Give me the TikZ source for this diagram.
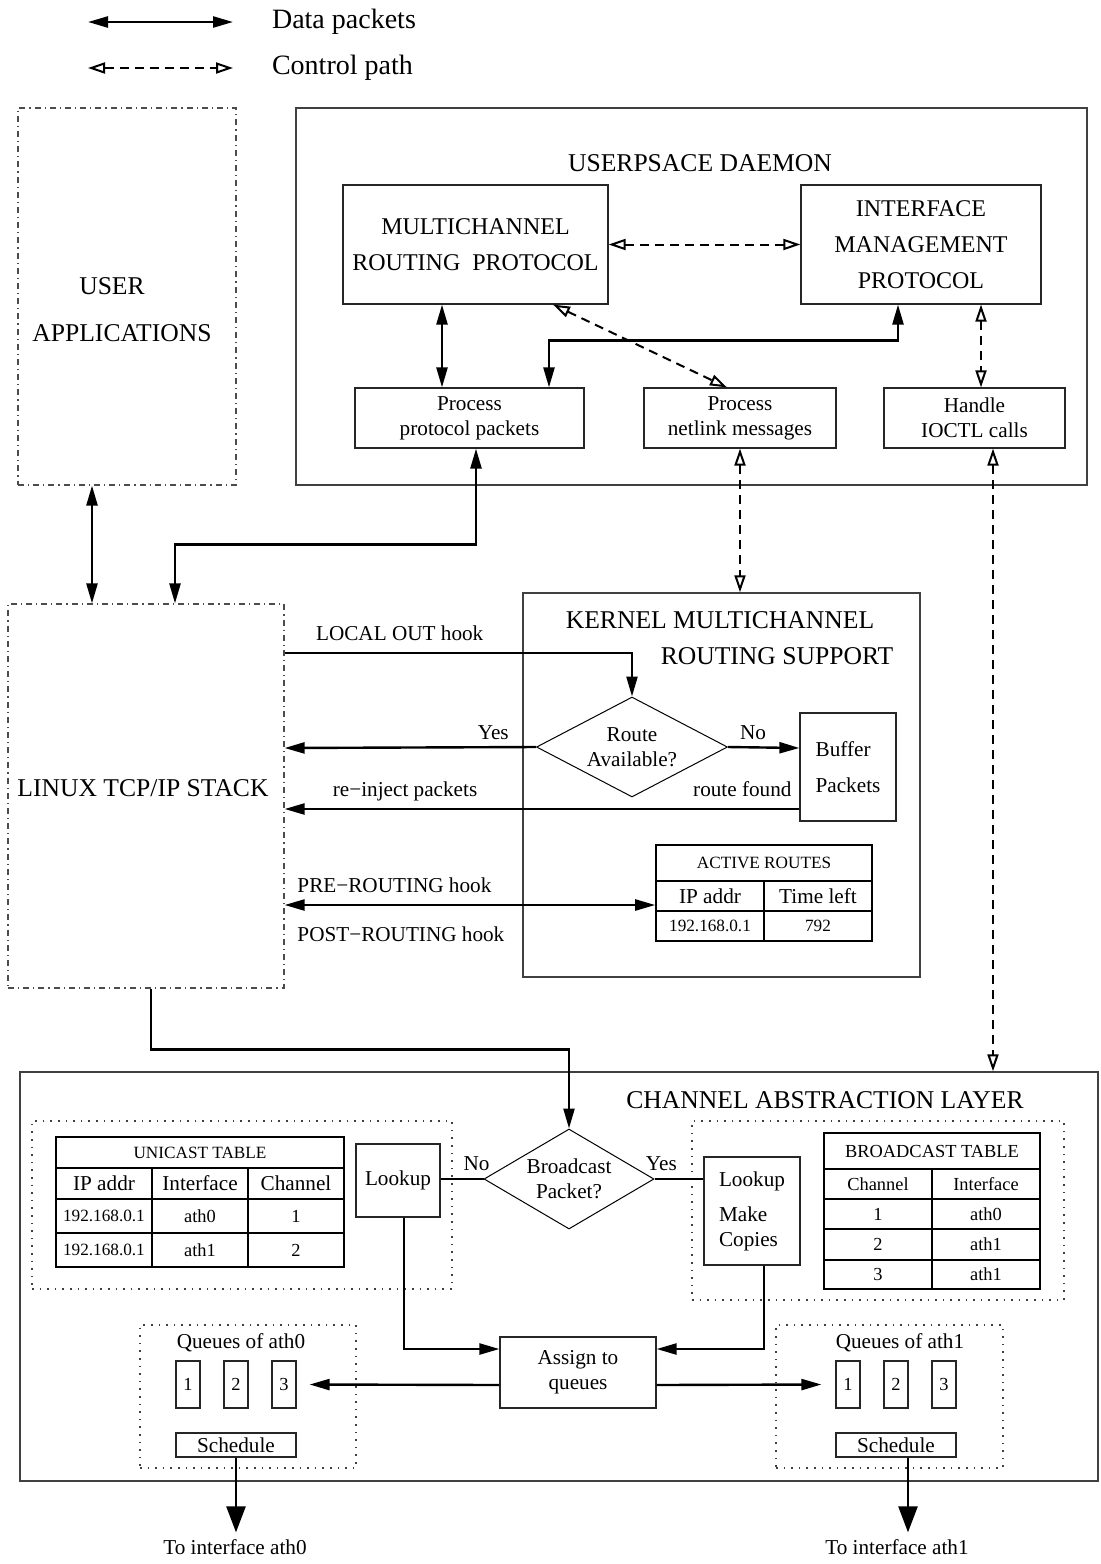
\documentclass[tikz,border=0pt]{standalone}
\usepackage{fontspec}
\setmainfont{Liberation Serif}
\usetikzlibrary{arrows.meta,shapes.geometric}

\begin{document}
\begin{tikzpicture}[
  x=0.5pt,y=-0.5pt,
  big/.style={font=\fontsize{12.8}{18}\selectfont},
  boxfont/.style={font=\fontsize{12}{18}\selectfont},
  mid/.style={font=\fontsize{10.6}{12.5}\selectfont},
  small/.style={font=\fontsize{9.2}{11}\selectfont},
  tiny/.style={font=\fontsize{8.6}{10}\selectfont},
  frame/.style={rectangle,draw=black!75,line width=0.7pt,inner sep=0pt},
  block/.style={rectangle,draw=black!85,line width=0.6pt,inner sep=0pt,align=center},
  dashdot/.style={rectangle,draw=black!70,line width=0.6pt,dash pattern=on 3pt off 2pt on 0.6pt off 2pt,inner sep=0pt},
  dotbox/.style={rectangle,draw=black!75,line width=0.8pt,dash pattern=on 0.8pt off 3pt,inner sep=0pt},
  cell/.style={rectangle,draw,line width=0.8pt,inner sep=0pt},
  decision/.style={diamond,draw,line width=0.5pt,inner sep=0pt,align=center},
  data/.style={line width=1.2pt,->,>={Triangle[length=10pt,width=5.5pt]}},
  link/.style={line width=1.2pt},
  ctrl/.style={line width=1pt,dash pattern=on 4.5pt off 3pt,<->,>={Triangle[open,length=8.5pt,width=5.5pt]}},
  outlink/.style={line width=1.2pt,-{Triangle[length=13pt,width=9.5pt]}}
]
  \useasboundingbox (0,0) rectangle (1101,1564);

  % legend
  \coordinate (dataA) at (88,22);
  \coordinate (dataB) at (233,22);
  \coordinate (ctrlA) at (88,68);
  \coordinate (ctrlB) at (233,68);
  \draw[data,<->] (dataA) -- (dataB);
  \draw[ctrl] (ctrlA) -- (ctrlB);
  \node[anchor=west,font=\fontsize{14}{16}\selectfont] (datatxt) at (265,22) {Data packets};
  \node[anchor=west,font=\fontsize{14}{16}\selectfont] (ctrltxt) at (265,68) {Control path};

  % user space
  \node[dashdot,minimum width=109pt,minimum height=188.5pt] (userapp) at (127,296.5) {};
  \node[align=center,font=\fontsize{12.8}{23.5}\selectfont] (usertxt) at (122,310) {USER\hspace*{10pt}\\APPLICATIONS};

  \node[frame,minimum width=395.5pt,minimum height=188.5pt] (daemon) at (691.5,296.5) {};
  \node[big] (daemontitle) at (700,163) {USERPSACE DAEMON};
  \node[block,boxfont,minimum width=132.5pt,minimum height=59.5pt] (mrp) at (475.5,244.5) {MULTICHANNEL\\ROUTING\ \ PROTOCOL};
  \node[block,boxfont,minimum width=120pt,minimum height=59.5pt] (imp) at (921,244.5) {INTERFACE\\MANAGEMENT\\PROTOCOL};
  \node[block,mid,minimum width=114.5pt,minimum height=30pt] (ppp) at (469.5,418) {Process\\protocol packets};
  \node[block,mid,minimum width=96pt,minimum height=30pt] (pnm) at (740,418) {Process\\netlink messages};
  \node[block,mid,minimum width=90.5pt,minimum height=30pt] (ioctl) at (974.5,418) {Handle\\IOCTL calls};

  % kernel
  \node[dashdot,minimum width=138pt,minimum height=192pt] (linux) at (146,796) {};
  \node[big] (linuxtxt) at (143,788) {LINUX TCP/IP STACK};

  \node[frame,minimum width=198.5pt,minimum height=192pt] (kernel) at (721.5,785) {};
  \node[big] (kerneltitleA) at (720,620) {KERNEL MULTICHANNEL};
  \node[big] (kerneltitleB) at (777,656) {ROUTING SUPPORT};
  \node[decision,mid,minimum width=95.5pt,minimum height=50pt,aspect=1.9] (route) at (632,747) {Route\\Available?};
  \node[block,align=left,font=\fontsize{10.6}{18}\selectfont,minimum width=48pt,minimum height=54pt] (buffer) at (848,767) {Buffer\\Packets};

  \node[cell,tiny,minimum width=108pt,minimum height=18pt] (arhead) at (764,863) {ACTIVE ROUTES};
  \node[cell,mid,minimum width=54pt,minimum height=15pt] (arip) at (710,896) {IP addr};
  \node[cell,mid,minimum width=54pt,minimum height=15pt] (artime) at (818,896) {Time left};
  \node[cell,tiny,minimum width=54pt,minimum height=15pt] (araddr) at (710,926) {192.168.0.1};
  \node[cell,tiny,minimum width=54pt,minimum height=15pt] (arleft) at (818,926) {792};

  % channel abstraction layer
  \node[frame,minimum width=539pt,minimum height=204.5pt] (cal) at (559,1276.5) {};
  \node[big] (caltitle) at (825,1100) {CHANNEL ABSTRACTION LAYER};

  \node[dotbox,minimum width=210pt,minimum height=84pt] (uzone) at (242,1205) {};
  \node[cell,tiny,minimum width=144pt,minimum height=15.5pt] (uhead) at (200,1152.5) {UNICAST TABLE};
  \node[cell,mid,minimum width=48pt,minimum height=15.5pt] (uip) at (104,1183.5) {IP addr};
  \node[cell,mid,minimum width=48pt,minimum height=15.5pt] (uif) at (200,1183.5) {Interface};
  \node[cell,mid,minimum width=48pt,minimum height=15.5pt] (uch) at (296,1183.5) {Channel};
  \node[cell,tiny,minimum width=48pt,minimum height=17pt] (uaddrA) at (104,1216) {192.168.0.1};
  \node[cell,small,minimum width=48pt,minimum height=17pt] (uifA) at (200,1216) {ath0};
  \node[cell,small,minimum width=48pt,minimum height=17pt] (uchA) at (296,1216) {1};
  \node[cell,tiny,minimum width=48pt,minimum height=17pt] (uaddrB) at (104,1250) {192.168.0.1};
  \node[cell,small,minimum width=48pt,minimum height=17pt] (uifB) at (200,1250) {ath1};
  \node[cell,small,minimum width=48pt,minimum height=17pt] (uchB) at (296,1250) {2};
  \node[block,mid,minimum width=42pt,minimum height=36.5pt] (lookupl) at (398,1180.5) {Lookup};

  \node[decision,mid,minimum width=85pt,minimum height=50pt,aspect=1.7] (bcast) at (569,1179) {Broadcast\\Packet?};

  \node[dotbox,minimum width=186pt,minimum height=89.5pt] (bzone) at (878,1210.5) {};
  \node[block,align=left,mid,minimum width=48pt,minimum height=54pt] (lookupr) at (752,1211) {Lookup\\[5pt]Make\\Copies};
  \node[cell,small,minimum width=108pt,minimum height=18pt] (bhead) at (932,1151) {BROADCAST TABLE};
  \node[cell,small,minimum width=54pt,minimum height=15pt] (bch) at (878,1184) {Channel};
  \node[cell,small,minimum width=54pt,minimum height=15pt] (bif) at (986,1184) {Interface};
  \node[cell,small,minimum width=54pt,minimum height=15pt] (bchA) at (878,1214) {1};
  \node[cell,small,minimum width=54pt,minimum height=15pt] (bifA) at (986,1214) {ath0};
  \node[cell,small,minimum width=54pt,minimum height=15.5pt] (bchB) at (878,1244.5) {2};
  \node[cell,small,minimum width=54pt,minimum height=15.5pt] (bifB) at (986,1244.5) {ath1};
  \node[cell,small,minimum width=54pt,minimum height=14.5pt] (bchC) at (878,1274.5) {3};
  \node[cell,small,minimum width=54pt,minimum height=14.5pt] (bifC) at (986,1274.5) {ath1};

  \node[block,mid,minimum width=78pt,minimum height=35.5pt] (assign) at (578,1372.5) {Assign to\\queues};

  \node[dotbox,minimum width=108pt,minimum height=71.5pt] (qzoneA) at (248,1396.5) {};
  \node[mid] (qtitleA) at (241,1343) {Queues of ath0};
  \node[block,small,minimum width=12pt,minimum height=23.5pt] (q0a) at (188,1384.5) {1};
  \node[block,small,minimum width=12pt,minimum height=23.5pt] (q0b) at (236,1384.5) {2};
  \node[block,small,minimum width=12pt,minimum height=23.5pt] (q0c) at (284,1384.5) {3};
  \node[block,mid,minimum width=60pt,minimum height=12pt] (sched0) at (236,1445) {Schedule};

  \node[dotbox,minimum width=113.5pt,minimum height=71.5pt] (qzoneB) at (889.5,1396.5) {};
  \node[mid] (qtitleB) at (900,1343) {Queues of ath1};
  \node[block,small,minimum width=12pt,minimum height=23.5pt] (q1a) at (848,1384.5) {1};
  \node[block,small,minimum width=12pt,minimum height=23.5pt] (q1b) at (896,1384.5) {2};
  \node[block,small,minimum width=12pt,minimum height=23.5pt] (q1c) at (944,1384.5) {3};
  \node[block,mid,minimum width=60pt,minimum height=12pt] (sched1) at (896,1445) {Schedule};

  \node[mid] (out0) at (235,1547) {To interface ath0};
  \node[mid] (out1) at (897,1547) {To interface ath1};

  % data paths
  \draw[data,<->] ([xshift=-17.5pt]userapp.south) -- ([xshift=-27pt]linux.north);
  \draw[data,<->] ([xshift=3.25pt]ppp.south) -- ++(0,96) -| ([xshift=14.5pt]linux.north);
  \draw[data,<->] ([xshift=-16.75pt]mrp.south) -- ([xshift=-13.75pt]ppp.north);
  \draw[data,<->] ([xshift=-11.5pt]imp.south) -- ++(0,36) -| ([xshift=39.75pt]ppp.north);
  \draw[data] ([yshift=71.5pt]linux.east) -| node[pos=0.034,anchor=south west,mid,yshift=2pt] {LOCAL OUT hook} (route.north);
  \draw[data] (route.west) -- node[pos=0.17,above,mid] {Yes} ([yshift=24pt]linux.east);
  \draw[data] (route.east) -- node[pos=0.35,above,mid] {No} ([yshift=9.5pt]buffer.west);
  \draw[data] ([yshift=-21pt]buffer.west) -- node[pos=0,anchor=south east,mid,yshift=2pt] {route found}
    node[pos=0.766,above,mid] {re−inject packets} ([yshift=-6.5pt]linux.east);
  \draw[data,<->] ([yshift=-54.5pt]linux.east) -- node[pos=0,anchor=south west,mid,xshift=2.5pt,yshift=2pt] {PRE−ROUTING hook}
    node[pos=0,anchor=north west,mid,xshift=2.5pt,yshift=-7pt] {POST−ROUTING hook} ([yshift=-4.5pt]arip.west);
  \draw[data] ([xshift=2.5pt]linux.south) -- ++(0,61) -| (bcast.north);
  \draw[link] (bcast.west -| lookupl.east) -- node[pos=0.84,above,mid] {No} (bcast.west);
  \draw[link] (bcast.east) -- node[pos=0.14,above,mid] {Yes} (bcast.east -| lookupr.west);
  \draw[data] ([xshift=3pt]lookupl.south) |- ([yshift=11.75pt]assign.west);
  \draw[data] ([xshift=6pt]lookupr.south) |- ([yshift=11.75pt]assign.east);
  \draw[data] ([yshift=-6.25pt]assign.west) -- ([xshift=6.5pt]q0c.east);
  \draw[data] ([yshift=-6.25pt]assign.east) -- ([xshift=-7pt]q1a.west);
  \draw[outlink] (sched0.south) -- (sched0.south |- out0.north);
  \draw[outlink] ([xshift=6pt]sched1.south) -- ([xshift=5.5pt]out1.north);

  % control paths
  \draw[ctrl] (mrp) -- (imp);
  \draw[ctrl] ([xshift=38.75pt]mrp.south) -- ([xshift=-6.5pt]pnm.north);
  \draw[ctrl] ([xshift=30pt]imp.south) -- ([xshift=3.25pt]ioctl.north);
  \draw[ctrl] (pnm.south) -- ([xshift=9.25pt]kernel.north);
  \draw[ctrl] ([xshift=9.25pt]ioctl.south) -- ([xshift=217pt]cal.north);
\end{tikzpicture}
\end{document}
